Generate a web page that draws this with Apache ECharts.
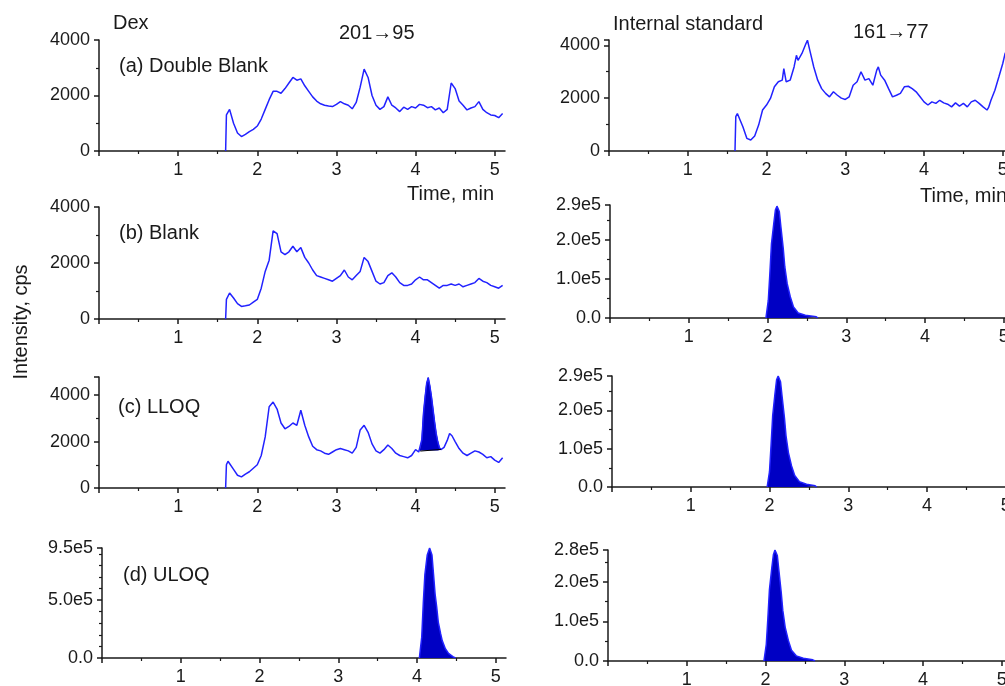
<!DOCTYPE html>
<html>
<head>
<meta charset="utf-8">
<script src="https://cdn.jsdelivr.net/npm/echarts@6.0.0/dist/echarts.min.js"></script>
<style>
  html, body { margin: 0; padding: 0; background: #fff; }
  #chart { width: 1005px; height: 686px; }
</style>
</head>
<body>
<div id="chart"></div>
<script>
// time axis (min) shared by the double blank and blank Dex traces
var TIME = [1.60, 1.61, 1.65, 1.70, 1.75, 1.80, 1.85, 1.90, 1.95, 2.00,
  2.05, 2.10, 2.15, 2.20, 2.25, 2.30, 2.35, 2.40, 2.45, 2.50,
  2.55, 2.60, 2.65, 2.70, 2.75, 2.80, 2.85, 2.90, 2.95, 3.00,
  3.05, 3.10, 3.15, 3.20, 3.25, 3.30, 3.35, 3.40, 3.45, 3.50,
  3.55, 3.60, 3.65, 3.70, 3.75, 3.80, 3.85, 3.90, 3.95, 4.00,
  4.05, 4.10, 4.15, 4.20, 4.25, 4.30, 4.35, 4.40, 4.45, 4.50,
  4.55, 4.60, 4.65, 4.70, 4.75, 4.80, 4.85, 4.90, 4.95, 5.00,
  5.05, 5.10];

// (a) Double Blank, Dex 201->95
var DEX_DOUBLE_BLANK = [0, 1300, 1500, 1000, 650, 520, 600, 700, 780, 900,
  1150, 1500, 1850, 2150, 2150, 2080, 2250, 2450, 2650, 2550,
  2600, 2350, 2150, 1950, 1800, 1700, 1650, 1620, 1600, 1680,
  1780, 1700, 1650, 1520, 1750, 2300, 2950, 2650, 2000, 1650,
  1500, 1600, 1950, 1650, 1550, 1420, 1580, 1500, 1600, 1550,
  1680, 1650, 1560, 1600, 1480, 1550, 1380, 1500, 2450, 2250,
  1800, 1650, 1480, 1550, 1600, 1780, 1500, 1380, 1300, 1280,
  1200, 1350];

// (b) Blank, Dex
var DEX_BLANK = [0, 700, 930, 750, 550, 450, 470, 500, 600, 700,
  1100, 1700, 2100, 3150, 3050, 2400, 2300, 2400, 2600, 2400,
  2550, 2200, 2000, 1750, 1550, 1500, 1450, 1400, 1350, 1450,
  1550, 1750, 1500, 1400, 1550, 1700, 2200, 2050, 1700, 1350,
  1250, 1300, 1550, 1650, 1500, 1300, 1200, 1200, 1250, 1400,
  1500, 1400, 1400, 1300, 1200, 1100, 1200, 1200, 1250, 1200,
  1250, 1150, 1200, 1250, 1300, 1450, 1350, 1300, 1200, 1150,
  1100, 1200];

// (c) LLOQ, Dex
var TIME_LLOQ = [1.60, 1.61, 1.63, 1.70, 1.75, 1.80, 1.85, 1.90, 1.95, 2.00,
  2.05, 2.10, 2.15, 2.20, 2.25, 2.30, 2.35, 2.40, 2.45, 2.50,
  2.55, 2.60, 2.65, 2.70, 2.75, 2.80, 2.85, 2.90, 2.95, 3.00,
  3.05, 3.10, 3.15, 3.20, 3.25, 3.30, 3.35, 3.40, 3.45, 3.50,
  3.55, 3.60, 3.65, 3.70, 3.75, 3.80, 3.85, 3.90, 3.95, 4.00,
  4.04, 4.06, 4.08, 4.10, 4.12, 4.14, 4.16, 4.18, 4.20, 4.22,
  4.24, 4.26, 4.28, 4.30, 4.32, 4.36, 4.40, 4.43, 4.46, 4.50,
  4.55, 4.60, 4.65, 4.70, 4.75, 4.80, 4.85, 4.90, 4.95, 5.00,
  5.05, 5.10];
var DEX_LLOQ = [0, 1000, 1150, 800, 550, 480, 600, 700, 850, 1000,
  1400, 2200, 3500, 3700, 3400, 2800, 2550, 2650, 2800, 2700,
  3350, 2700, 2200, 1800, 1650, 1600, 1500, 1450, 1550, 1650,
  1700, 1650, 1600, 1500, 1750, 2500, 2700, 2400, 1900, 1600,
  1500, 1650, 1850, 1700, 1500, 1400, 1350, 1300, 1400, 1650,
  1550, 1600, 2100, 3200, 3900, 4500, 4750, 4400, 3950, 3400,
  2850, 2350, 2000, 1750, 1650, 1750, 2050, 2350, 2250, 2000,
  1700, 1500, 1400, 1500, 1600, 1550, 1450, 1300, 1350, 1200,
  1100, 1300];
var LLOQ_PEAK_RANGE = [4.06, 4.32];
var LLOQ_BASE_T = [4.06, 4.32];
var LLOQ_BASE_Y = [1590, 1660];

// (d) ULOQ, Dex
var TIME_ULOQ = [4.03, 4.06, 4.08, 4.10, 4.13, 4.16, 4.19, 4.21, 4.23, 4.25,
  4.27, 4.30, 4.32, 4.36, 4.40, 4.46, 4.49];
var DEX_ULOQ = [0, 180000, 480000, 720000, 890000, 950000, 890000, 720000, 550000, 440000,
  310000, 210000, 150000, 80000, 40000, 10000, 0];

// Internal standard 161->77, double blank
var TIME_IS_A = [1.60, 1.61, 1.63, 1.70, 1.75, 1.80, 1.85, 1.90, 1.95, 2.00,
  2.05, 2.10, 2.15, 2.20, 2.22, 2.25, 2.30, 2.35, 2.38, 2.40,
  2.45, 2.50, 2.52, 2.55, 2.60, 2.65, 2.70, 2.75, 2.80, 2.85,
  2.90, 2.95, 3.00, 3.05, 3.10, 3.15, 3.20, 3.25, 3.30, 3.35,
  3.40, 3.42, 3.45, 3.50, 3.55, 3.60, 3.65, 3.70, 3.75, 3.80,
  3.85, 3.90, 3.95, 4.00, 4.05, 4.10, 4.15, 4.20, 4.25, 4.30,
  4.35, 4.40, 4.45, 4.50, 4.55, 4.60, 4.65, 4.70, 4.75, 4.80,
  4.82, 4.85, 4.90, 4.95, 5.00, 5.03, 5.05, 5.10];
var IS_DOUBLE_BLANK = [0, 1300, 1420, 920, 480, 415, 570, 980, 1550, 1740,
  1990, 2430, 2620, 2680, 3120, 2620, 2680, 3180, 3620, 3430,
  3690, 4060, 4190, 3810, 3180, 2680, 2360, 2180, 2050, 2240,
  2110, 2000, 1950, 2050, 2490, 2620, 3000, 2680, 2740, 2490,
  3060, 3180, 2870, 2680, 2360, 2050, 2110, 2180, 2430, 2450,
  2360, 2240, 2050, 1860, 1740, 1860, 1800, 1920, 1820, 1770,
  1670, 1820, 1700, 1800, 1670, 1860, 1920, 1800, 1670, 1550,
  1650, 1920, 2300, 2800, 3310, 3690, 3800, 4000];

// Internal standard peaks: blank, LLOQ, ULOQ
var TIME_IS_B = [1.98, 2.01, 2.03, 2.05, 2.08, 2.10, 2.12, 2.15, 2.17, 2.20,
  2.22, 2.25, 2.29, 2.33, 2.39, 2.48, 2.62, 2.64];
var IS_BLANK = [0, 45000, 114000, 190000, 243000, 277000, 287000, 273000, 234000, 178000,
  131000, 88000, 54000, 28000, 13000, 7000, 3000, 0];
var TIME_IS_C = [1.97, 2.00, 2.02, 2.04, 2.07, 2.09, 2.11, 2.14, 2.16, 2.19,
  2.21, 2.24, 2.28, 2.32, 2.38, 2.47, 2.58, 2.60];
var IS_LLOQ = [0, 40000, 110000, 185000, 245000, 280000, 290000, 275000, 236000, 180000,
  133000, 90000, 55000, 30000, 14000, 7000, 3000, 0];
var TIME_IS_D = [1.98, 2.01, 2.03, 2.05, 2.08, 2.10, 2.12, 2.15, 2.17, 2.20,
  2.22, 2.25, 2.29, 2.33, 2.39, 2.48, 2.60, 2.63];
var IS_ULOQ = [0, 42000, 108000, 180000, 235000, 268000, 280000, 266000, 228000, 172000,
  127000, 85000, 52000, 27000, 13000, 7000, 3000, 0];

var X_TICKS = [0, 1, 2, 3, 4, 5];
var Y_MAX = [4000, 4000, 4780, 950000, 4200, 290000, 290000, 280000];
var Y_STEP = [2000, 2000, 2000, 500000, 2000, 100000, 100000, 100000];

var FONT = '"Liberation Sans", Arial, sans-serif';
var INK = '#1a1a1a';
var BLUE = '#2222ff';
var FILL = '#0000c4';

function pairs(t, y) {
    return t.map(function (v, i) { return [v, y[i]]; });
}

var grids = [
    { left: 99, top: 40, width: 406, height: 111 },
    { left: 99, top: 207, width: 406, height: 112 },
    { left: 99, top: 377, width: 406, height: 111 },
    { left: 102, top: 548, width: 404, height: 110 },
    { left: 609, top: 40, width: 404, height: 111 },
    { left: 610, top: 205, width: 404, height: 113 },
    { left: 612, top: 376, width: 404, height: 111 },
    { left: 608, top: 550, width: 404, height: 111 }
].map(function (g) { g.outerBoundsMode = 'none'; g.containLabel = false; return g; });

var xAxes = grids.map(function (g, i) {
    return {
        type: 'value', gridIndex: i, min: 0, max: 5.13, interval: 1,
        axisLine: { onZero: false, lineStyle: { color: INK, width: 1.5 } },
        axisTick: { length: 5, customValues: X_TICKS, lineStyle: { color: INK, width: 1.5 } },
        minorTick: { show: true, splitNumber: 2, length: 3, lineStyle: { color: INK, width: 1.2 } },
        axisLabel: {
            margin: 10, fontSize: 18, color: INK, fontFamily: FONT,
            formatter: function (v) { return (v > 0 && Math.abs(v - Math.round(v)) < 1e-6) ? String(Math.round(v)) : ''; }
        },
        splitLine: { show: false }
    };
});

var yAxes = grids.map(function (g, i) {
    var big = Y_STEP[i] >= 100000;
    return {
        type: 'value', gridIndex: i, min: 0, max: Y_MAX[i], interval: Y_STEP[i],
        axisLine: { show: true, onZero: false, lineStyle: { color: INK, width: 1.5 } },
        axisTick: { show: true, length: 5, lineStyle: { color: INK, width: 1.5 } },
        minorTick: { show: true, splitNumber: i === 3 ? 5 : 2, length: 3, lineStyle: { color: INK, width: 1.2 } },
        axisLabel: {
            margin: 9, fontSize: 18, color: INK, fontFamily: FONT,
            formatter: function (v) {
                if (big) return v === 0 ? '0.0' : (v / 1e5).toFixed(1) + 'e5';
                return v % Y_STEP[i] === 0 ? String(v) : '';
            }
        },
        splitLine: { show: false }
    };
});

function trace(idx, t, y, fill) {
    var s = {
        type: 'line', xAxisIndex: idx, yAxisIndex: idx,
        data: pairs(t, y), symbol: 'none', showSymbol: false,
        lineStyle: { color: BLUE, width: 1.5 }, itemStyle: { color: BLUE },
        silent: true, z: 3
    };
    if (fill) s.areaStyle = { color: FILL, opacity: 1 };
    return s;
}

var lloqPeak = pairs(TIME_LLOQ, DEX_LLOQ).filter(function (p) {
    return p[0] >= LLOQ_PEAK_RANGE[0] - 1e-6 && p[0] <= LLOQ_PEAK_RANGE[1] + 1e-6;
});

var series = [
    trace(0, TIME, DEX_DOUBLE_BLANK),
    trace(1, TIME, DEX_BLANK),
    {
        type: 'line', xAxisIndex: 2, yAxisIndex: 2, data: lloqPeak,
        symbol: 'none', lineStyle: { color: FILL, width: 1 },
        areaStyle: { color: FILL, opacity: 1, origin: 1620 }, silent: true, z: 2
    },
    trace(2, TIME_LLOQ, DEX_LLOQ),
    {
        type: 'line', xAxisIndex: 2, yAxisIndex: 2, data: pairs(LLOQ_BASE_T, LLOQ_BASE_Y),
        symbol: 'none', lineStyle: { color: '#000', width: 1 }, silent: true, z: 4
    },
    trace(3, TIME_ULOQ, DEX_ULOQ, true),
    trace(4, TIME_IS_A, IS_DOUBLE_BLANK),
    trace(5, TIME_IS_B, IS_BLANK, true),
    trace(6, TIME_IS_C, IS_LLOQ, true),
    trace(7, TIME_IS_D, IS_ULOQ, true)
];

function label(text, x, y, size) {
    return {
        type: 'text', x: x, y: y, silent: true,
        style: { text: text, font: (size || 20) + 'px ' + FONT, fill: INK, verticalAlign: 'middle' }
    };
}

var chart = echarts.init(document.getElementById('chart'));
chart.setOption({
    backgroundColor: '#fff',
    animation: false,
    grid: grids,
    xAxis: xAxes,
    yAxis: yAxes,
    series: series,
    graphic: [
        label('Dex', 113, 23),
        label('201\u219295', 339, 33),
        label('(a) Double Blank', 119, 66),
        label('Time, min', 407, 194),
        label('(b) Blank', 119, 233),
        label('(c) LLOQ', 118, 407),
        label('(d) ULOQ', 123, 575),
        label('Internal standard', 613, 24),
        label('161\u219277', 853, 32),
        label('Time, min', 920, 196),
        {
            type: 'text', x: 21, y: 322, rotation: Math.PI / 2, silent: true,
            style: { text: 'Intensity, cps', font: '20px ' + FONT, fill: INK, align: 'center', verticalAlign: 'middle' }
        }
    ]
});
window.addEventListener('resize', function () {
    chart.resize();
});
</script>
</body>
</html>
